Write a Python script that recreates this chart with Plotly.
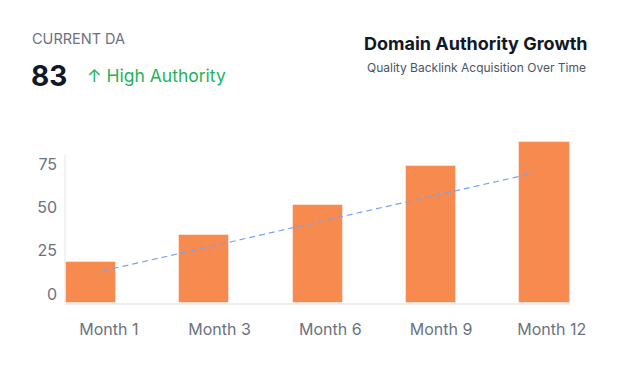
import plotly.graph_objects as go

# ---- data ----
months = ["Month 1", "Month 3", "Month 6", "Month 9", "Month 12"]
da_values = [23.7, 39.2, 56.7, 79.2, 93.2]
trend_months = [1, 12]
trend_values = [18.6, 75.0]
y_ticks = [0, 25, 50, 75]
current_da = 83

FONT = "Inter"
OFF = 8  # default page body margin
FW, FH = 620 - OFF, 377 - OFF

fig = go.Figure()

fig.add_trace(go.Bar(
    x=months, y=da_values, xaxis="x", yaxis="y",
    width=0.4435,
    marker=dict(color="#f68a4f", line=dict(color="rgba(255,255,255,0.45)", width=1)),
    showlegend=False, hoverinfo="skip",
))

fig.add_trace(go.Scatter(
    x=trend_months, y=trend_values, xaxis="x3", yaxis="y",
    mode="lines",
    line=dict(color="#78a3f4", width=1.2, dash="6px,4px"),
    showlegend=False, hoverinfo="skip",
))

# invisible trace so the label axis renders
fig.add_trace(go.Scatter(
    x=list(range(len(months))), y=[None] * len(months), xaxis="x2", yaxis="y",
    mode="markers", showlegend=False, hoverinfo="skip",
))

# plot area in screen pixels
L, R, T, B = 65, 570, 130, 303.3
W, H = R - L, B - T

def px(x):
    return (x - L) / W

def py(y):
    return (B - y) / H

fig.update_layout(
    width=FW, height=FH,
    margin=dict(l=L - OFF, r=620 - R, t=T - OFF, b=377 - B, pad=0),
    paper_bgcolor="white", plot_bgcolor="white",
    font=dict(family=FONT, color="#6b7280"),
    bargap=0,
    xaxis=dict(
        type="category", range=[-0.228, 4.225],
        showticklabels=False, showgrid=False, zeroline=False,
        showline=True, linecolor="#eeeeee", linewidth=1.5, layer="below traces",
        fixedrange=True,
    ),
    xaxis2=dict(
        overlaying="x", anchor="y", side="bottom",
        range=[-0.396, 4.165],
        tickmode="array", tickvals=list(range(len(months))), ticktext=months,
        tickfont=dict(family=FONT, size=16, color="#6b7280"),
        showgrid=False, zeroline=False, showline=False, ticks="",
        ticklabelstandoff=15,
    ),
    xaxis3=dict(
        overlaying="x", anchor="y", range=[0.028, 12.947], visible=False,
    ),
    yaxis=dict(
        range=[0, 100], tickmode="array", tickvals=y_ticks,
        tickfont=dict(family=FONT, size=16, color="#6b7280"),
        showgrid=False, zeroline=False, showline=False, ticks="",
        ticklabelshift=-9, ticklabelstandoff=7,
    ),
    shapes=[dict(
        type="line", xref="paper", yref="y", x0=0, x1=0, y0=0, y1=85.6,
        line=dict(color="#eeeeee", width=1.5), layer="below",
    )],
    annotations=[
        dict(text="CURRENT DA", xref="paper", yref="paper", x=px(30), y=py(38.5),
             xanchor="left", yanchor="middle", showarrow=False,
             font=dict(family=FONT, size=14.5, color="#6b7280")),
        dict(text=f"<b>{current_da}</b>", xref="paper", yref="paper", x=px(29), y=py(76),
             xanchor="left", yanchor="middle", showarrow=False,
             font=dict(family=FONT, size=28, color="#111827", weight=600)),
        dict(text="↑ High Authority", xref="paper", yref="paper", x=px(85), y=py(75),
             xanchor="left", yanchor="middle", showarrow=False,
             font=dict(family=FONT, size=17.5, color="#1fb35a")),
        dict(text="<b>Domain Authority Growth</b>", xref="paper", yref="paper", x=px(476), y=py(43),
             xanchor="center", yanchor="middle", showarrow=False,
             font=dict(family=FONT, size=18, color="#111827")),
        dict(text="Quality Backlink Acquisition Over Time", xref="paper", yref="paper", x=px(476), y=py(67),
             xanchor="center", yanchor="middle", showarrow=False,
             font=dict(family=FONT, size=12, color="#4b5563")),
    ],
)

fig.write_html("out.html")
